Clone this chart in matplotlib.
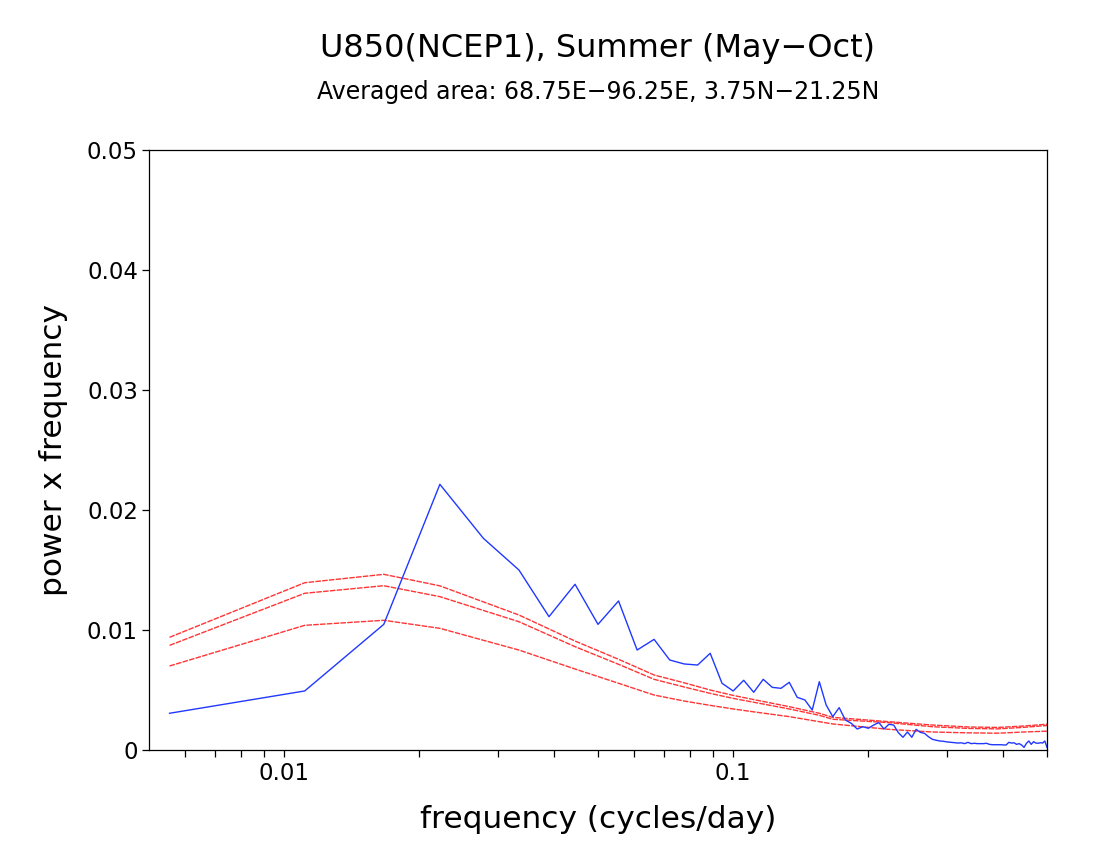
import numpy as np
import matplotlib
matplotlib.use("Agg")
import matplotlib.pyplot as plt
from matplotlib.ticker import FixedLocator, NullFormatter

# ---- data ----
n_days = 180
k_blue = list(range(1, 91))
power_blue = [
    0.00306, 0.00492, 0.01047, 0.02214, 0.01764, 0.01500, 0.01111, 0.01381, 0.01047, 0.01242,
    0.00833, 0.00922, 0.00750, 0.00717, 0.00708, 0.00806, 0.00556, 0.00492, 0.00581, 0.00481,
    0.00589, 0.00522, 0.00514, 0.00564, 0.00439, 0.00417, 0.00333, 0.00569, 0.00375, 0.00278,
    0.00353, 0.00250, 0.00222, 0.00175, 0.00194, 0.00181, 0.00208, 0.00229, 0.00175, 0.00214,
    0.00208, 0.00144, 0.00106, 0.00150, 0.00106, 0.00172, 0.00147, 0.00139, 0.00111, 0.00089,
    0.00081, 0.00075, 0.00072, 0.00067, 0.00064, 0.00061, 0.00058, 0.00060, 0.00053, 0.00064,
    0.00053, 0.00056, 0.00053, 0.00053, 0.00053, 0.00056, 0.00047, 0.00044, 0.00044, 0.00044,
    0.00044, 0.00042, 0.00042, 0.00064, 0.00058, 0.00060, 0.00047, 0.00053, 0.00042, 0.00022,
    0.00056, 0.00075, 0.00047, 0.00069, 0.00058, 0.00056, 0.00061, 0.00058, 0.00075, 0.00022,
]
k_red = [1, 2, 3, 4, 6, 8, 10, 12, 14, 16, 18, 20, 24, 28, 30, 40, 50, 60, 70, 80, 90]
red_upper = [0.00939, 0.01394, 0.01464, 0.01368, 0.01125, 0.00908, 0.00756, 0.00625, 0.00560,
             0.00500, 0.00455, 0.00420, 0.00361, 0.00306, 0.00272, 0.00236, 0.00208, 0.00192,
             0.00188, 0.00200, 0.00215]
red_middle = [0.00872, 0.01306, 0.01369, 0.01278, 0.01069, 0.00861, 0.00714, 0.00589, 0.00525,
              0.00472, 0.00430, 0.00398, 0.00342, 0.00289, 0.00256, 0.00228, 0.00194, 0.00180,
              0.00176, 0.00189, 0.00204]
red_noise = [0.00700, 0.01039, 0.01081, 0.01014, 0.00833, 0.00675, 0.00556, 0.00458, 0.00408,
             0.00372, 0.00342, 0.00318, 0.00278, 0.00236, 0.00217, 0.00172, 0.00150, 0.00143,
             0.00140, 0.00150, 0.00157]
y_ticks = [0, 0.01, 0.02, 0.03, 0.04, 0.05]
y_ticklabels = ["0", "0.01", "0.02", "0.03", "0.04", "0.05"]
x_major = [0.01, 0.1]
x_major_labels = ["0.01", "0.1"]
x_minor = [0.006, 0.007, 0.008, 0.009, 0.02, 0.03, 0.04, 0.05, 0.06, 0.07, 0.08, 0.09,
           0.2, 0.3, 0.4, 0.5]

f_blue = np.array(k_blue) / n_days
f_red = np.array(k_red) / n_days

plt.rcParams['font.family'] = ['DejaVu Sans']
fig = plt.figure(figsize=(11, 8.5), dpi=100)
ax = fig.add_axes([149 / 1100, 100 / 850, 898 / 1100, 600 / 850])

red = '#ff3535'
dash = (0, (4.0, 0.9))
ax.plot(f_red, red_upper, color=red, lw=1.0, linestyle=dash)
ax.plot(f_red, red_middle, color=red, lw=1.0, linestyle=dash)
ax.plot(f_red, red_noise, color=red, lw=1.0, linestyle=dash)
ax.plot(f_blue, power_blue, color='#2038ff', lw=1.0)

ax.set_xscale('log')
ax.set_xlim(0.005, 0.5)
ax.set_ylim(0, 0.05)
ax.xaxis.set_major_locator(FixedLocator(x_major))
ax.set_xticklabels(x_major_labels)
ax.xaxis.set_minor_locator(FixedLocator(x_minor))
ax.xaxis.set_minor_formatter(NullFormatter())
ax.set_yticks(y_ticks)
ax.set_yticklabels(y_ticklabels)
ax.tick_params(which='both', direction='out', length=5, width=0.9, labelsize=16.5)
ax.tick_params(axis='x', which='both', pad=4)
ax.tick_params(axis='y', pad=3)
for s in ax.spines.values():
    s.set_linewidth(0.9)

ax.set_xlabel('frequency (cycles/day)', fontsize=22.5, va='top')
ax.xaxis.set_label_coords(0.5, (750 - 805) / 600)
ax.set_ylabel('power x frequency', fontsize=22.5)
ax.yaxis.set_label_coords((68 - 149) / 898, 0.5)

xc = (149 + 1047) / 2 / 1100
fig.text(xc, 1 - 57 / 850, 'U850(NCEP1), Summer (May\u2212Oct)', ha='center', va='baseline', fontsize=23)
fig.text(xc, 1 - 99 / 850, 'Averaged area: 68.75E\u221296.25E, 3.75N\u221221.25N', ha='center',
         va='baseline', fontsize=17)

fig.savefig('out.png', dpi=100)
